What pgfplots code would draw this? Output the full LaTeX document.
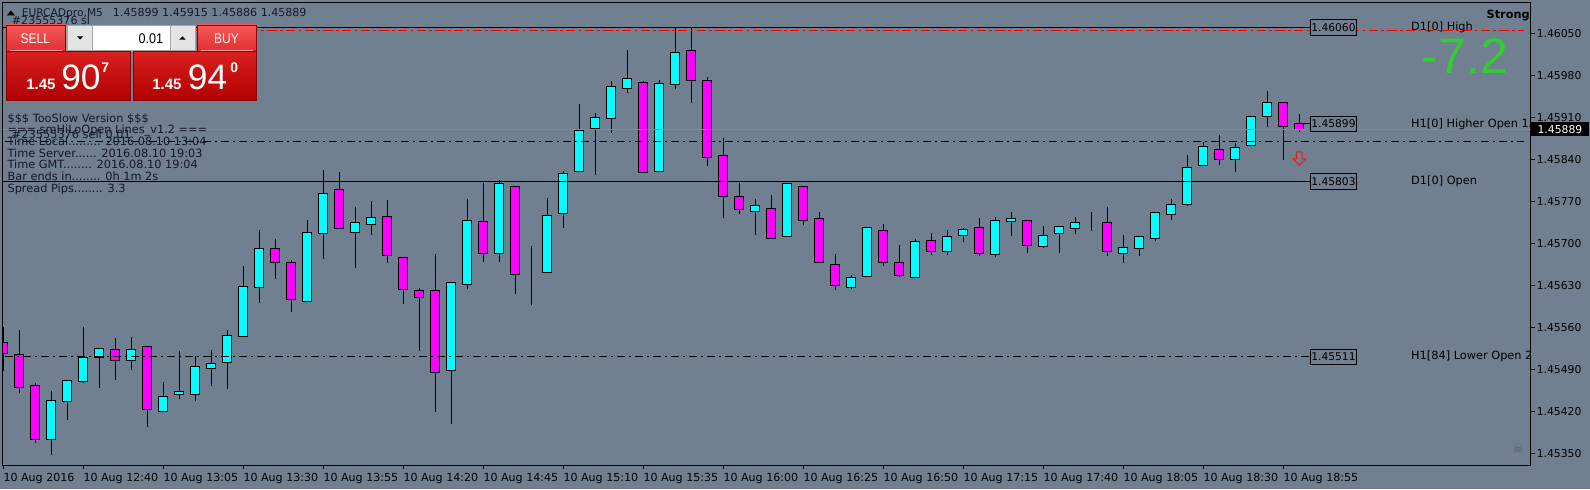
\documentclass[border=0pt]{standalone}
\usepackage{fontspec}
\setmainfont{DejaVu Sans}
\newfontfamily\lib{Liberation Sans}
\usepackage{graphicx}
\usepackage{pgfplots}
\usepackage{pgfplotstable}
\pgfplotsset{compat=1.18}
\newcommand\fs[1]{\fontsize{#1}{#1}\selectfont}

\definecolor{bg}{RGB}{112,128,144}
\definecolor{bull}{RGB}{0,255,255}
\definecolor{bear}{RGB}{255,0,255}
\definecolor{txt}{RGB}{22,22,45}
\definecolor{bidln}{RGB}{128,142,128}
\definecolor{lime}{RGB}{50,205,50}
\definecolor{sellTop}{RGB}{246,88,88}
\definecolor{sellBot}{RGB}{226,46,46}
\definecolor{pTop}{RGB}{216,32,32}
\definecolor{pBot}{RGB}{178,0,0}
\definecolor{dkred}{RGB}{140,0,0}
\definecolor{pinkln}{RGB}{255,160,160}
\definecolor{btngray}{RGB}{228,228,228}
\definecolor{btnbord}{RGB}{165,165,165}
\definecolor{skull}{RGB}{92,102,112}
\definecolor{arrowred}{RGB}{225,30,30}

\pgfplotstableread{
i o h l c
0 1.45535 1.45561 1.45488 1.45517
1 1.45515 1.45556 1.45451 1.45460
2 1.45463 1.45467 1.45368 1.45373
3 1.45373 1.45454 1.45348 1.45438
4 1.45437 1.45472 1.45406 1.45472
5 1.45470 1.45561 1.45468 1.45510
6 1.45510 1.45525 1.45459 1.45525
7 1.45523 1.45542 1.45473 1.45505
8 1.45505 1.45544 1.45489 1.45523
9 1.45528 1.45528 1.45394 1.45423
10 1.45420 1.45469 1.45420 1.45445
11 1.45448 1.45521 1.45440 1.45453
12 1.45448 1.45512 1.45438 1.45495
13 1.45492 1.45522 1.45463 1.45500
14 1.45502 1.45555 1.45458 1.45547
15 1.45545 1.45662 1.45545 1.45628
16 1.45627 1.45722 1.45601 1.45692
17 1.45692 1.45707 1.45641 1.45668
18 1.45668 1.45672 1.45586 1.45607
19 1.45603 1.45739 1.45602 1.45718
20 1.45717 1.45822 1.45673 1.45783
21 1.45790 1.45819 1.45725 1.45725
22 1.45718 1.45760 1.45658 1.45735
23 1.45732 1.45770 1.45713 1.45743
24 1.45745 1.45772 1.45667 1.45680
25 1.45677 1.45677 1.45599 1.45623
26 1.45622 1.45625 1.45521 1.45610
27 1.45622 1.45682 1.45419 1.45485
28 1.45488 1.45635 1.45399 1.45635
29 1.45632 1.45773 1.45623 1.45738
30 1.45737 1.45800 1.45668 1.45683
31 1.45683 1.45805 1.45668 1.45800
32 1.45795 1.45795 1.45615 1.45648
33 1.45648 1.45695 1.45597 1.45648
34 1.45652 1.45775 1.45652 1.45747
35 1.45750 1.45820 1.45726 1.45817
36 1.45820 1.45932 1.45820 1.45888
37 1.45892 1.45917 1.45814 1.45910
38 1.45908 1.45970 1.45884 1.45962
39 1.45958 1.46022 1.45950 1.45975
40 1.45968 1.45970 1.45817 1.45818
41 1.45820 1.45972 1.45820 1.45967
42 1.45965 1.46060 1.45957 1.46018
43 1.46022 1.46060 1.45933 1.45972
44 1.45972 1.45977 1.45828 1.45843
45 1.45847 1.45875 1.45742 1.45778
46 1.45778 1.45800 1.45748 1.45757
47 1.45753 1.45773 1.45713 1.45763
48 1.45758 1.45780 1.45708 1.45708
49 1.45712 1.45800 1.45712 1.45800
50 1.45795 1.45795 1.45730 1.45738
51 1.45742 1.45752 1.45668 1.45668
52 1.45665 1.45682 1.45622 1.45630
53 1.45627 1.45647 1.45623 1.45643
54 1.45645 1.45727 1.45645 1.45727
55 1.45722 1.45732 1.45662 1.45668
56 1.45668 1.45697 1.45643 1.45647
57 1.45643 1.45707 1.45643 1.45703
58 1.45705 1.45717 1.45680 1.45687
59 1.45687 1.45722 1.45680 1.45712
60 1.45713 1.45725 1.45702 1.45723
61 1.45727 1.45742 1.45678 1.45683
62 1.45682 1.45743 1.45677 1.45738
63 1.45737 1.45752 1.45712 1.45742
64 1.45738 1.45738 1.45683 1.45697
65 1.45695 1.45728 1.45692 1.45713
66 1.45717 1.45728 1.45683 1.45728
67 1.45725 1.45743 1.45715 1.45735
68 1.45733 1.45752 1.45720 1.45733
69 1.45735 1.45760 1.45678 1.45687
70 1.45683 1.45713 1.45667 1.45693
71 1.45692 1.45712 1.45678 1.45712
72 1.45708 1.45752 1.45703 1.45752
73 1.45748 1.45773 1.45738 1.45765
74 1.45765 1.45847 1.45762 1.45827
75 1.45830 1.45868 1.45830 1.45862
76 1.45857 1.45880 1.45830 1.45840
77 1.45840 1.45867 1.45818 1.45860
78 1.45863 1.45912 1.45862 1.45912
79 1.45912 1.45954 1.45893 1.45935
80 1.45935 1.45935 1.45839 1.45895
81 1.45899 1.45915 1.45886 1.45889
}\candles

\pgfplotsset{mt/.style={at={(2.025pt,18pt)}, anchor=south west,
  width=1146pt, height=346.725pt, scale only axis,
  xmin=-0.0375, xmax=95.4625, ymin=1.453305, ymax=1.46101}}

\begin{document}
\begin{tikzpicture}
\useasboundingbox (0,0) rectangle (1192.5pt,366.75pt);
\fill[bg] (0,0) rectangle (1192.5pt,366.75pt);

% wicks
\begin{axis}[mt, hide axis]
\addplot[draw=none, mark=none, no markers,
  error bars/.cd, y dir=plus, y explicit, error mark=none,
  error bar style={draw=black, line width=0.75pt}]
  table[x=i, y=l, y error plus expr=\thisrow{h}-\thisrow{l}] {\candles};
\end{axis}

% bodies
\begin{axis}[mt, hide axis, ybar stacked, bar width=6.75pt]
\addplot[draw=none, fill=none] table[x=i, y expr={min(\thisrow{o},\thisrow{c})}] {\candles};
\addplot[draw=black, fill=bull, line width=0.75pt] table[x=i, y expr={max(\thisrow{c}-\thisrow{o},0)}] {\candles};
\addplot[draw=black, fill=bear, line width=0.75pt] table[x=i, y expr={max(\thisrow{o}-\thisrow{c},0)}] {\candles};
\end{axis}

% frame, ticks, level lines
\begin{axis}[mt,
  axis line style={black, line width=0.75pt},
  tick style={black, line width=0.75pt},
  tick align=outside, major tick length=3.2pt,
  /pgf/number format/assume math mode=true,
  xtick={0,5,...,80},
  xticklabels={10 Aug 2016,10 Aug 12:40,10 Aug 13:05,10 Aug 13:30,10 Aug 13:55,10 Aug 14:20,10 Aug 14:45,10 Aug 15:10,10 Aug 15:35,10 Aug 16:00,10 Aug 16:25,10 Aug 16:50,10 Aug 17:15,10 Aug 17:40,10 Aug 18:05,10 Aug 18:30,10 Aug 18:55},
  xtick pos=lower,
  ytick={1.4535,1.4542,1.4549,1.4556,1.4563,1.4570,1.4577,1.4584,1.4591,1.4598,1.4605},
  yticklabels={1.45350,1.45420,1.45490,1.45560,1.45630,1.45700,1.45770,1.45840,1.45910,1.45980,1.46050},
  ytick pos=upper, yticklabel pos=upper,
  xticklabel style={anchor=north west, inner sep=0pt, font=\fs{8.3}, text=black, yshift=-3pt},
  yticklabel style={anchor=west, inner sep=0pt, font=\fs{8.1}, text=black, xshift=1.2pt},
]
\addplot[red, line width=1.125pt, dash pattern=on 7pt off 2.5pt on 2pt off 2.5pt] coordinates {(-1,1.46055) (95.05,1.46055)};
\addplot[black, line width=0.75pt] coordinates {(-1,1.46060) (81.67,1.46060)};
\addplot[bidln, line width=0.75pt] coordinates {(-1,1.45889) (96,1.45889)};
\addplot[black, line width=0.75pt, dash pattern=on 6pt off 3pt on 1.5pt off 3pt] coordinates {(-1,1.45869) (95.05,1.45869)};
\addplot[black, line width=0.75pt] coordinates {(-1,1.45803) (81.67,1.45803)};
\addplot[black, line width=0.75pt, dash pattern=on 6pt off 3pt on 1.5pt off 3pt] coordinates {(-1,1.45511) (81.67,1.45511)};
\addplot[black, line width=0.75pt] coordinates {(81,1.45899) (81.67,1.45899)};

\tikzset{lvlbox/.style={draw=black, line width=0.75pt, fill=bg, inner xsep=1pt, inner ysep=2.8pt, font=\fs{8}, text=black},
         lvltxt/.style={anchor=west, inner sep=0pt, font=\fs{8.5}, text=black}}
\node[lvlbox] at (axis cs:83.14,1.46060) {1.46060};
\node[lvlbox] at (axis cs:83.14,1.45899) {1.45899};
\node[lvlbox] at (axis cs:83.14,1.45803) {1.45803};
\node[lvlbox] at (axis cs:83.14,1.45511) {1.45511};
\node[lvltxt] at (axis cs:87.98,1.46060) {D1[0] High};
\node[lvltxt] at (axis cs:87.98,1.45899) {H1[0] Higher Open 15};
\node[lvltxt] at (axis cs:87.98,1.45803) {D1[0] Open};
\node[lvltxt] at (axis cs:87.98,1.45511) {H1[84] Lower Open 24};
\end{axis}

% overlays in pixel coordinates (origin top-left)
\begin{scope}[shift={(0pt,366.75pt)}, x=0.75pt, y=-0.75pt]
  % header
  \fill[black] (6.7,15.5) -- (15,15.5) -- (10.85,10.5) -- cycle;
  \node[anchor=base west, inner sep=0pt, font=\fs{8}, text=txt] at (21.5,16.6) {EURCADpro,M5};
  \node[anchor=base west, inner sep=0pt, font=\fs{8.3}, text=txt] at (112.7,16.6) {1.45899 1.45915 1.45886 1.45889};
  \node[anchor=base west, inner sep=0pt, font=\fs{8.3}, text=txt] at (11.7,25) {\#23555376 sl};

  % trade panel: top buttons
  \shade[top color=sellTop, bottom color=sellBot] (6,25) rectangle (65,51.7);
  \draw[dkred, line width=0.5pt] (6,25) rectangle (65,51.7);
  \draw[pinkln, line width=0.6pt] (10,50.8) -- (62,50.8);
  \node[text=white, font=\lib\fs{10.5}, inner sep=0pt] at (35.4,38.6) {\scalebox{0.86}[1]{SELL}};
  \shade[top color=sellTop, bottom color=sellBot] (197.3,25) rectangle (256.7,51.7);
  \draw[dkred, line width=0.5pt] (197.3,25) rectangle (256.7,51.7);
  \draw[pinkln, line width=0.6pt] (201,50.8) -- (253,50.8);
  \node[text=white, font=\lib\fs{10.5}, inner sep=0pt] at (226.5,38.6) {\scalebox{0.86}[1]{BUY}};
  % lot box
  \fill[btngray] (67.5,26) rectangle (92.7,50.7);
  \fill[white] (92.7,26) rectangle (170.7,50.7);
  \fill[btngray] (170.7,26) rectangle (195.2,50.7);
  \draw[btnbord, line width=1.2pt] (67,25.6) rectangle (195.6,51.1);
  \draw[btnbord, line width=0.6pt] (92.7,26) -- (92.7,50.7) (170.7,26) -- (170.7,50.7);
  \fill[black] (77,36.3) -- (83.2,36.3) -- (80.1,39.6) -- cycle;
  \fill[black] (179.4,39.6) -- (185.6,39.6) -- (182.5,36.3) -- cycle;
  \node[anchor=east, text=black, font=\lib\fs{10.5}, inner sep=0pt] at (163.5,38.6) {\scalebox{0.9}[1]{0.01}};
  % price panels
  \shade[top color=pTop, bottom color=pBot] (6,51.7) rectangle (130.7,100);
  \draw[dkred, line width=0.5pt] (6,51.7) rectangle (130.7,100);
  \shade[top color=pTop, bottom color=pBot] (133,51.7) rectangle (256.7,100);
  \draw[dkred, line width=0.5pt] (133,51.7) rectangle (256.7,100);
  \node[anchor=base west, text=white, font=\lib\bfseries\fs{11.25}, inner sep=0pt] at (26,89.3) {1.45};
  \node[anchor=base west, text=white, font=\lib\fs{26.5}, inner sep=0pt] at (61,89.3) {90};
  \node[anchor=base west, text=white, font=\lib\bfseries\fs{10.5}, inner sep=0pt] at (101,72.5) {7};
  \node[anchor=base west, text=white, font=\lib\bfseries\fs{11.25}, inner sep=0pt] at (152,89.3) {1.45};
  \node[anchor=base west, text=white, font=\lib\fs{26.5}, inner sep=0pt] at (187.7,89.3) {94};
  \node[anchor=base west, text=white, font=\lib\bfseries\fs{10.5}, inner sep=0pt] at (230,72.5) {0};

  % info text block
  \begin{scope}[every node/.style={anchor=base west, inner sep=0pt, font=\fs{8.5}, text=txt}]
    \node at (7.3,122.2) {\$\$\$ TooSlow Version \$\$\$};
    \node at (7.3,133.9) {=== smHiLoOpen Lines\_v1.2 ===};
    \node at (11.7,138.3) {\#23555376 sell 0.01};
    \node at (7.3,145.6) {Time Local......... 2016.08.10 13:04};
    \node at (7.3,157.3) {Time Server...... 2016.08.10 19:03};
    \node at (7.3,169.0) {Time GMT........ 2016.08.10 19:04};
    \node at (7.3,180.7) {Bar ends in........ 0h 1m 2s};
    \node at (7.3,192.4) {Spread Pips........ 3.3};
  \end{scope}

  % big pips number and signal text
  \node[anchor=base west, inner sep=0pt, text=lime, font=\lib\fs{37.5}] at (1421.5,74) {-7.2};
  \node[anchor=base east, inner sep=0pt, text=black, font=\bfseries\fs{8.5}] at (1530,18.3) {Strong};

  % signal arrow
  \draw[arrowred, line width=0.75pt] (1296.4,152) -- (1302.2,152) -- (1302.2,159) -- (1305.4,159)
     -- (1299.3,165.3) -- (1293.2,159) -- (1296.4,159) -- cycle;
  % skull icon
  \node[text=skull, font=\fs{10}, inner sep=0pt] at (1518,448.5) {☠};

  % current price tag on the scale
  \fill[black] (1530.7,121.8) rectangle (1588.6,136.2);
  \node[anchor=west, inner sep=0pt, text=white, font=\fs{8.1}] at (1537.3,129.1) {1.45889};
\end{scope}
\end{tikzpicture}
\end{document}
